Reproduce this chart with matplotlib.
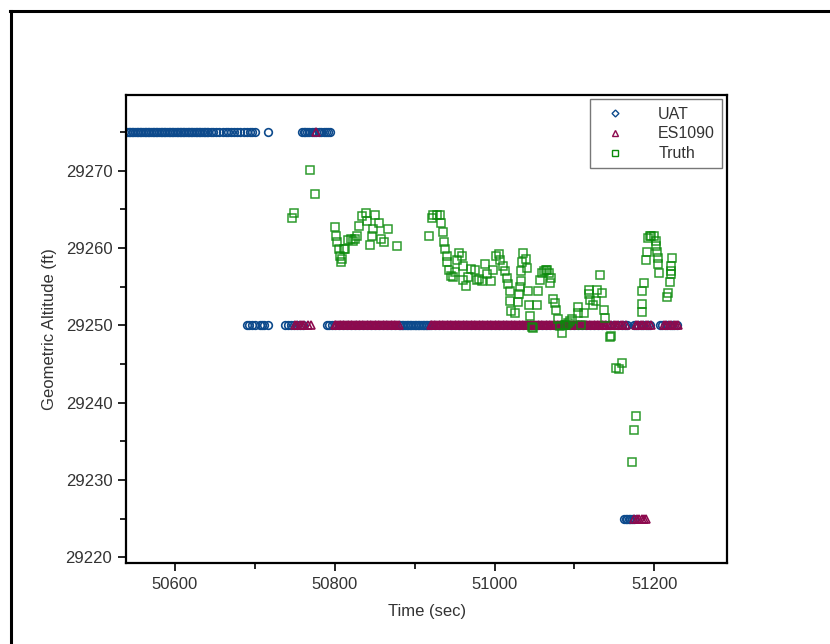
import matplotlib
matplotlib.use("Agg")
import matplotlib.pyplot as plt
from matplotlib.lines import Line2D
from matplotlib.ticker import MultipleLocator

plt.rcParams["font.family"] = ["Liberation Sans", "DejaVu Sans"]

# UAT reports (time in sec), grouped by reported altitude
uat_high_t = [50540, 50542, 50544, 50546, 50548, 50550, 50552, 50554, 50556, 50558,
              50560, 50562, 50564, 50566, 50568, 50570, 50572, 50574, 50576, 50578,
              50580, 50582, 50584, 50586, 50588, 50590, 50592, 50594, 50596, 50598,
              50600, 50602, 50604, 50606, 50608, 50610, 50612, 50614, 50616, 50618,
              50620, 50622, 50624, 50626, 50628, 50630, 50632, 50634, 50636, 50638,
              50640, 50642, 50645, 50648, 50651, 50655, 50660, 50664, 50667, 50670,
              50674, 50678, 50682, 50686, 50690, 50694, 50697, 50700, 50716,
              50759, 50761, 50763, 50765, 50768, 50771, 50774, 50777, 50780,
              50783, 50786, 50789, 50792, 50794]
uat_high_alt = 29275

uat_mid_t = [50690, 50693, 50696, 50700, 50706, 50709, 50712, 50716,
             50738, 50741, 50745, 50749, 50753, 50757, 50760,
             50790, 50793, 50796, 50800, 50805, 50810, 50815, 50820, 50825, 50830,
             50835, 50840, 50845, 50850, 50855, 50860, 50865, 50870, 50875, 50880,
             50882, 50884, 50886, 50888, 50890, 50892, 50894, 50896, 50898, 50900,
             50902, 50904, 50906, 50908, 50910, 50912, 50914, 50916, 50918, 50920,
             50925, 50930, 50935, 50940, 50945, 50950, 50955, 50960, 50965, 50970,
             50975, 50980, 50985, 50990, 50995, 51000, 51005, 51010, 51015, 51020,
             51025, 51030, 51035, 51040, 51045, 51050, 51055, 51060, 51065, 51070,
             51075, 51080, 51085, 51090, 51095, 51100, 51105, 51110, 51115, 51120,
             51125, 51130, 51135, 51140, 51145, 51150, 51155, 51160, 51163, 51166,
             51174, 51177, 51180, 51183, 51186, 51189, 51192, 51195,
             51207, 51210, 51213, 51216, 51219, 51222, 51225, 51228]
uat_mid_alt = 29250

uat_low_t = [51162, 51164, 51166, 51168, 51170, 51172, 51174]
uat_low_alt = 29225

# ES1090 reports
es_high_t = [50777]
es_mid_t = [50750, 50753, 50756, 50759, 50762, 50766, 50770,
            50800, 50802, 50804, 50806, 50808, 50810, 50812, 50814, 50816, 50818,
            50820, 50822, 50824, 50826, 50828, 50830, 50832, 50834, 50836, 50838,
            50840, 50842, 50844, 50846, 50848, 50850, 50852, 50854, 50856, 50858,
            50860, 50862, 50864, 50866, 50868, 50870, 50872, 50874, 50876, 50878,
            50880,
            50920, 50922, 50924, 50926, 50928, 50930, 50932, 50934, 50936, 50938,
            50940, 50942, 50944, 50946, 50948, 50950, 50952, 50954, 50956, 50958,
            50960, 50962, 50964, 50966, 50968, 50970, 50972, 50974, 50976, 50978,
            50980, 50982, 50984, 50986, 50988, 50990, 50992, 50994, 50996, 50998,
            51000, 51002, 51004, 51006, 51008, 51010, 51012, 51014, 51016, 51018,
            51020, 51022, 51024, 51026, 51028, 51030, 51032, 51034, 51036, 51038,
            51040, 51042, 51044, 51046, 51048, 51050, 51052, 51054, 51056, 51058,
            51060, 51062, 51064, 51066, 51068, 51070, 51072, 51074, 51076, 51078,
            51080, 51082, 51084, 51086, 51088, 51090, 51092, 51094, 51096, 51098,
            51100, 51102, 51104, 51106, 51108, 51110, 51112, 51114, 51116, 51118,
            51120, 51122, 51124, 51126, 51128, 51130, 51132, 51134, 51136, 51138,
            51140, 51143, 51146, 51149, 51152, 51155, 51158, 51161, 51164,
            51177, 51180, 51183, 51186, 51189, 51192, 51196,
            51212, 51215, 51218, 51221, 51224, 51227, 51230]
es_low_t = [51175, 51178, 51181, 51184, 51187, 51190]

# truth track
truth_t = [50746.4, 50749.6, 50769.3, 50775.9, 50800.5, 50801.8, 50803.4, 50805.1,
           50806.8, 50807.6, 50808.5, 50811.0, 50813.0, 50817.0, 50820.0, 50823.0,
           50825.0, 50827.6, 50831.0, 50834.0, 50839.0, 50840.0, 50844.0, 50846.4,
           50847.6, 50850.5, 50855.5, 50858.0, 50861.8, 50866.4, 50877.6, 50918.4,
           50921.4, 50923.4, 50927.6, 50931.8, 50933.4, 50935.0, 50936.8, 50937.6,
           50940.0, 50941.0, 50943.4, 50945.0, 50948.4, 50950.0, 50952.6, 50955.9,
           50958.9, 50960.0, 50960.9, 50964.3, 50967.0, 50970.0, 50975.5, 50978.4,
           50981.0, 50984.0, 50988.0, 50990.0, 50995.0, 50998.4, 51001.8, 51005.0,
           51006.8, 51010.0, 51013.0, 51015.0, 51017.0, 51019.0, 51019.5, 51021.0,
           51025.5, 51029.0, 51030.5, 51031.8, 51032.6, 51033.0, 51034.0, 51036.0,
           51039.0, 51040.0, 51042.0, 51043.0, 51044.0, 51047.0, 51048.0, 51052.6,
           51054.6, 51056.8, 51060.0, 51062.0, 51064.3, 51066.0, 51068.4, 51070.5,
           51070.0, 51073.4, 51075.5, 51076.8, 51079.6, 51081.8, 51085.0, 51088.0,
           51090.0, 51092.0, 51094.0, 51096.4, 51104.0, 51104.6, 51107.6, 51112.0,
           51118.0, 51118.4, 51120.0, 51122.6, 51126.4, 51128.4, 51132.0, 51135.0,
           51137.0, 51138.4, 51144.0, 51146.0, 51151.8, 51155.5, 51159.0, 51172.6,
           51174.6, 51176.4, 51184.0, 51184.0, 51185.0, 51186.8, 51189.6, 51190.5,
           51192.0, 51194.0, 51196.4, 51199.0, 51201.8, 51202.6, 51203.4, 51204.0,
           51204.6, 51205.9, 51216.4, 51217.6, 51219.0, 51220.5, 51221.0, 51221.4,
           51221.8]
truth_alt = [29263.8, 29264.5, 29270.1, 29266.9, 29262.7, 29261.5, 29260.7, 29259.9,
             29258.9, 29258.2, 29258.6, 29259.9, 29259.8, 29261.0, 29261.1, 29260.9,
             29261.2, 29261.5, 29262.8, 29264.1, 29264.5, 29263.5, 29260.4, 29261.5,
             29262.4, 29264.3, 29263.2, 29261.1, 29260.8, 29262.5, 29260.3, 29261.5,
             29263.8, 29264.3, 29264.3, 29264.3, 29263.2, 29262.0, 29260.7, 29259.9,
             29258.9, 29258.2, 29257.1, 29256.4, 29256.3, 29256.9, 29258.5, 29259.4,
             29258.9, 29257.6, 29255.9, 29255.1, 29256.3, 29257.3, 29257.1, 29255.9,
             29256.0, 29255.7, 29257.9, 29256.6, 29255.7, 29257.2, 29259.0, 29259.2,
             29258.5, 29257.7, 29257.0, 29256.1, 29255.3, 29254.4, 29253.1, 29251.8,
             29251.6, 29253.0, 29254.1, 29255.0, 29255.7, 29257.0, 29258.2, 29259.4,
             29258.6, 29257.4, 29254.4, 29252.6, 29251.2, 29249.8, 29249.6, 29252.6,
             29254.4, 29255.9, 29256.7, 29257.0, 29257.1, 29257.2, 29256.8, 29256.1,
             29255.5, 29253.4, 29252.9, 29252.0, 29250.8, 29249.9, 29249.0, 29250.1,
             29250.0, 29250.3, 29250.5, 29250.8, 29252.3, 29251.6, 29250.0, 29251.6,
             29254.6, 29254.0, 29253.3, 29252.6, 29253.1, 29254.5, 29256.5, 29254.2,
             29252.0, 29250.9, 29248.5, 29248.6, 29244.5, 29244.4, 29245.1, 29232.3,
             29236.5, 29238.3, 29251.7, 29252.8, 29254.4, 29255.4, 29258.4, 29259.5,
             29261.3, 29261.6, 29261.6, 29261.6, 29260.9, 29260.3, 29259.5, 29258.7,
             29257.9, 29256.8, 29253.6, 29254.2, 29255.6, 29256.6, 29257.0, 29257.6,
             29258.7]

uat_color = "#0d4a8c"
es_color = "#8c0a4e"
truth_color = "#0a8a0a"

fig = plt.figure(figsize=(8.3, 6.44), dpi=100)
ax = fig.add_axes([0.152, 0.126, 0.724, 0.727])

# UAT first, ES1090 on top, truth last
ax.plot(uat_high_t, [uat_high_alt] * len(uat_high_t), "o", ms=5.5, mfc="none",
        mec=uat_color, mew=1.2, ls="none")
ax.plot(uat_mid_t, [uat_mid_alt] * len(uat_mid_t), "o", ms=5.5, mfc="none",
        mec=uat_color, mew=1.2, ls="none")
ax.plot(uat_low_t, [uat_low_alt] * len(uat_low_t), "o", ms=5.5, mfc="none",
        mec=uat_color, mew=1.2, ls="none")
ax.plot(es_high_t, [uat_high_alt] * len(es_high_t), "^", ms=5.5, mfc="none",
        mec=es_color, mew=1.2, ls="none")
ax.plot(es_mid_t, [uat_mid_alt] * len(es_mid_t), "^", ms=5.5, mfc="none",
        mec=es_color, mew=1.2, ls="none")
ax.plot(es_low_t, [uat_low_alt] * len(es_low_t), "^", ms=5.5, mfc="none",
        mec=es_color, mew=1.2, ls="none")
ax.plot(truth_t, truth_alt, "s", ms=6, mfc="none", mec=truth_color, mew=1.1,
        ls="none", alpha=0.85)

ax.set_xlim(50539, 51291)
ax.set_ylim(29219.3, 29279.8)
ax.xaxis.set_major_locator(MultipleLocator(200))
ax.xaxis.set_minor_locator(MultipleLocator(100))
ax.yaxis.set_major_locator(MultipleLocator(10))
ax.yaxis.set_minor_locator(MultipleLocator(5))
ax.tick_params(which="major", direction="out", length=6, width=1.2,
               labelsize=12, labelcolor="#333333", pad=4)
ax.tick_params(which="minor", direction="out", length=4, width=1.2)
for s in ax.spines.values():
    s.set_linewidth(1.6)

ax.set_xlabel("Time (sec)", fontsize=12, color="#333333", labelpad=9)
ax.set_ylabel("Geometric Altitude (ft)", fontsize=12, color="#333333", labelpad=6)

# legend
handles = [
    Line2D([], [], marker="D", ms=3.5, mfc="none", mec=uat_color, mew=1, ls="none"),
    Line2D([], [], marker="^", ms=4.5, mfc="none", mec=es_color, mew=1, ls="none"),
    Line2D([], [], marker="s", ms=4.5, mfc="none", mec=truth_color, mew=1, ls="none"),
]
leg = ax.legend(handles, ["UAT", "ES1090", "Truth"], loc="upper right",
                fontsize=11.5, frameon=True, fancybox=False, borderaxespad=0.3,
                handlelength=2.2, handletextpad=1.6, labelspacing=0.3, borderpad=0.45)
leg.get_frame().set_edgecolor("#555555")
leg.get_frame().set_linewidth(1.0)
for t in leg.get_texts():
    t.set_color("#333333")

# outer frame lines (left and top only)
fig.add_artist(Line2D([0.013, 0.013], [0.0, 0.983], color="black", lw=2.2,
                      transform=fig.transFigure))
fig.add_artist(Line2D([0.012, 1.0], [0.983, 0.983], color="black", lw=2.2,
                      transform=fig.transFigure))

fig.savefig("out.png", dpi=100)
